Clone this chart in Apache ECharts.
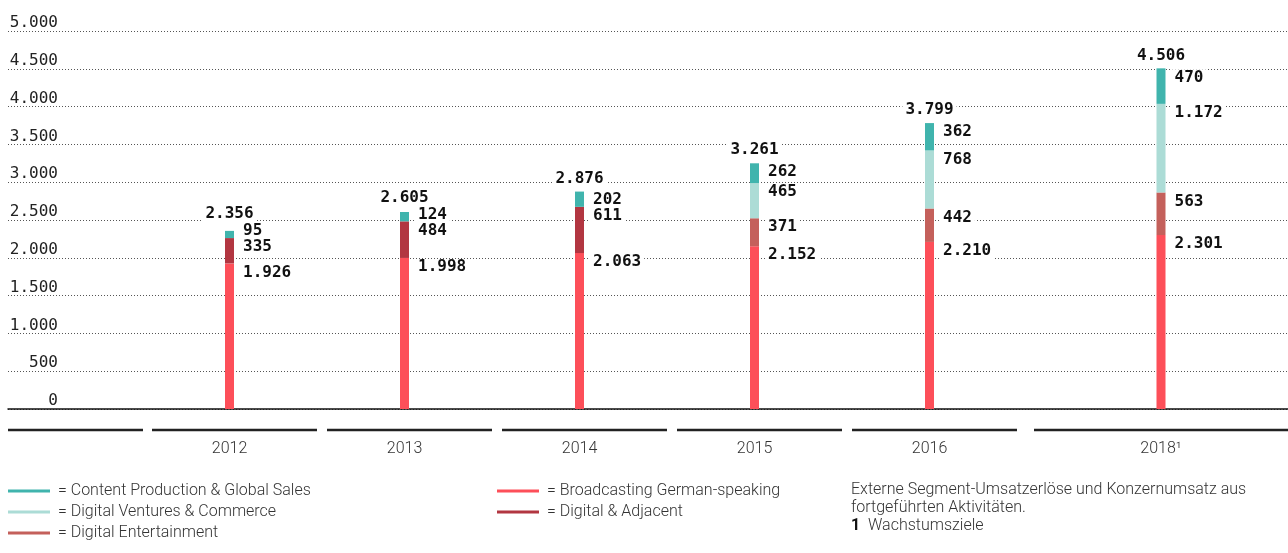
<!DOCTYPE html>
<html>
<head>
<meta charset="utf-8">
<script src="https://cdn.jsdelivr.net/npm/echarts@6/dist/echarts.min.js"></script>
<style>
  html, body { margin: 0; padding: 0; background: #fff; }
  #chart { width: 1288px; height: 553px; }
</style>
</head>
<body>
<div id="chart"></div>
<script>
  // Umsatz je Segment (Mio. Euro)
  var categories = ['2012', '2013', '2014', '2015', '2016', '2018'];
  var categoryMarks = ['', '', '', '', '', '¹'];
  var broadcasting = [1926, 1998, 2063, 2152, 2210, 2301];
  var digitalAdjacent = [335, 484, 611, null, null, null];
  var digitalEntertainment = [null, null, null, 371, 442, 563];
  var digitalVentures = [null, null, null, 465, 768, 1172];
  var contentProduction = [95, 124, 202, 262, 362, 470];
  var totals = [2356, 2605, 2876, 3261, 3799, 4506];
  var yTicks = [0, 500, 1000, 1500, 2000, 2500, 3000, 3500, 4000, 4500, 5000];

  var names = {
    cp: 'Content Production & Global Sales',
    dv: 'Digital Ventures & Commerce',
    de: 'Digital Entertainment',
    bc: 'Broadcasting German-speaking',
    da: 'Digital & Adjacent'
  };

  // von unten nach oben gestapelt
  var segments = [
    { name: names.bc, data: broadcasting, color: '#fd4f59' },
    { name: names.da, data: digitalAdjacent, color: '#b23641' },
    { name: names.de, data: digitalEntertainment, color: '#c4605b' },
    { name: names.dv, data: digitalVentures, color: '#acdcd6' },
    { name: names.cp, data: contentProduction, color: '#40b4ad' }
  ];

  var PLOT_TOP = 31;
  var PLOT_H = 378;
  var LEFT0 = 142, WIDTH0 = 875; // 2012 - 2016
  var LEFT1 = 1034, WIDTH1 = 254; // 2018
  var SPLIT = 5;
  var LABEL_H = 16;

  var chart = echarts.init(document.getElementById('chart'));

  function fmt(v) {
    return String(v).replace(/\B(?=(\d{3})+(?!\d))/g, '.');
  }

  // Label-Positionen einer Säule, damit sich die Werte nicht überdecken
  function columnLabels(g, idx) {
    var ci = g === 0 ? idx : SPLIT + idx;
    var sum = 0, prev = Infinity, tops = [], barTop = 0, x = 0;
    segments.forEach(function (s) {
      var v = s.data[ci];
      if (v == null) { tops.push(null); return; }
      sum += v;
      var pt = chart.convertToPixel({ gridIndex: g }, [idx, sum]);
      barTop = pt[1];
      x = pt[0];
      var t = Math.min(pt[1] + 1, prev - LABEL_H);
      tops.push(t);
      prev = t;
    });
    return { tops: tops, barTop: barTop, highest: prev, x: x };
  }

  var monoBold = {
    fontFamily: 'DejaVu Sans Mono',
    fontWeight: 'bold',
    fontSize: 16,
    lineHeight: LABEL_H,
    color: '#111',
    backgroundColor: '#fff',
    padding: [0, 3]
  };

  var series = [];
  [0, 1].forEach(function (g) {
    segments.forEach(function (s, k) {
      var d = g === 0 ? s.data.slice(0, SPLIT) : s.data.slice(SPLIT);
      series.push({
        name: s.name,
        type: 'bar',
        xAxisIndex: g,
        yAxisIndex: g,
        stack: 'umsatz' + g,
        barWidth: 9,
        data: d,
        itemStyle: { color: s.color },
        label: Object.assign({
          show: true,
          position: [15, 0],
          formatter: function (p) { return fmt(p.value); }
        }, monoBold),
        labelLayout: function (p) {
          var c = columnLabels(g, p.dataIndex);
          return { x: p.rect.x + 15, y: c.tops[k], align: 'left', verticalAlign: 'top' };
        }
      });
    });
    series.push({
      name: 'Konzernumsatz',
      type: 'scatter',
      xAxisIndex: g,
      yAxisIndex: g,
      symbolSize: 0,
      itemStyle: { color: '#111', opacity: 1 },
      data: g === 0 ? totals.slice(0, SPLIT) : totals.slice(SPLIT),
      label: Object.assign({
        show: true,
        position: 'top',
        distance: 5,
        opacity: 1,
        formatter: function (p) { return fmt(p.value); }
      }, monoBold),
      labelLayout: function (p) {
        var c = columnLabels(g, p.dataIndex);
        return {
          x: c.x,
          y: Math.min(c.barTop - 5, c.highest - 1),
          align: 'center',
          verticalAlign: 'bottom'
        };
      },
      z: 5
    });
  });

  function catAxis(g, data) {
    return {
      type: 'category',
      gridIndex: g,
      data: data,
      axisLine: { show: false },
      axisTick: { show: false },
      axisLabel: {
        margin: 32,
        fontFamily: 'Roboto',
        fontWeight: 300,
        fontSize: 16,
        color: '#333',
        formatter: function (v) {
          return v + categoryMarks[categories.indexOf(v)];
        }
      }
    };
  }

  function hiddenY(g) {
    return { type: 'value', gridIndex: g, min: 0, max: 5000, show: false };
  }

  // Trennlinien unter der Nulllinie
  var lineY = 430;
  var separators = [{ x1: 8, x2: 143 }];
  var band = WIDTH0 / SPLIT;
  for (var i = 0; i < SPLIT; i++) {
    separators.push({ x1: LEFT0 + band * i + 10, x2: LEFT0 + band * (i + 1) });
  }
  separators.push({ x1: LEFT1, x2: LEFT1 + WIDTH1 });

  var graphic = separators.map(function (s) {
    return {
      type: 'line',
      shape: { x1: s.x1, y1: lineY, x2: s.x2, y2: lineY },
      style: { stroke: '#222', lineWidth: 2.5 },
      silent: true
    };
  });

  var legendText = {
    fontFamily: 'Roboto',
    fontWeight: 300,
    fontSize: 16,
    color: '#333',
    padding: [0, 0, 0, 3]
  };

  var option = {
    animation: false,
    grid: [
      { left: LEFT0, width: WIDTH0, top: PLOT_TOP, height: PLOT_H },
      { left: LEFT1, width: WIDTH1, top: PLOT_TOP, height: PLOT_H },
      { left: 8, right: 0, top: PLOT_TOP, height: PLOT_H }
    ],
    xAxis: [
      catAxis(0, categories.slice(0, SPLIT)),
      catAxis(1, categories.slice(SPLIT)),
      {
        type: 'value',
        gridIndex: 2,
        min: 0,
        max: 1,
        axisLine: { show: true, lineStyle: { color: '#111', width: 1.5 } },
        axisTick: { show: false },
        axisLabel: { show: false },
        splitLine: { show: false }
      }
    ],
    yAxis: [
      hiddenY(0),
      hiddenY(1),
      {
        type: 'value',
        gridIndex: 2,
        min: yTicks[0],
        max: yTicks[yTicks.length - 1],
        interval: yTicks[1] - yTicks[0],
        axisLine: { show: false },
        axisTick: { show: false },
        axisLabel: {
          inside: true,
          margin: 50,
          align: 'right',
          verticalAlign: 'bottom',
          fontFamily: 'DejaVu Sans Mono',
          fontSize: 16,
          color: '#222',
          formatter: function (v) { return fmt(v); }
        },
        splitLine: {
          show: true,
          lineStyle: { color: '#555', width: 1, type: [1, 2] }
        }
      }
    ],
    legend: [
      {
        orient: 'vertical',
        left: 8,
        top: 483,
        padding: 0,
        itemWidth: 42,
        itemHeight: 3,
        itemGap: 5,
        icon: 'rect',
        selectedMode: false,
        data: [names.cp, names.dv, names.de],
        formatter: '= {name}',
        textStyle: legendText
      },
      {
        orient: 'vertical',
        left: 497,
        top: 483,
        padding: 0,
        itemWidth: 42,
        itemHeight: 3,
        itemGap: 5,
        icon: 'rect',
        selectedMode: false,
        data: [names.bc, names.da],
        formatter: '= {name}',
        textStyle: legendText
      }
    ],
    title: {
      left: 846,
      top: 476,
      text: 'Externe Segment-Umsatzerlöse und Konzernumsatz aus\nfortgeführten Aktivitäten.\n{b|1}  Wachstumsziele',
      textStyle: {
        fontFamily: 'Roboto',
        fontWeight: 300,
        fontSize: 16,
        lineHeight: 18,
        color: '#333',
        rich: {
          b: { fontFamily: 'Roboto', fontWeight: 'bold', fontSize: 16, lineHeight: 18, color: '#111' }
        }
      }
    },
    graphic: graphic,
    series: series
  };

  chart.setOption(option);
</script>
</body>
</html>
